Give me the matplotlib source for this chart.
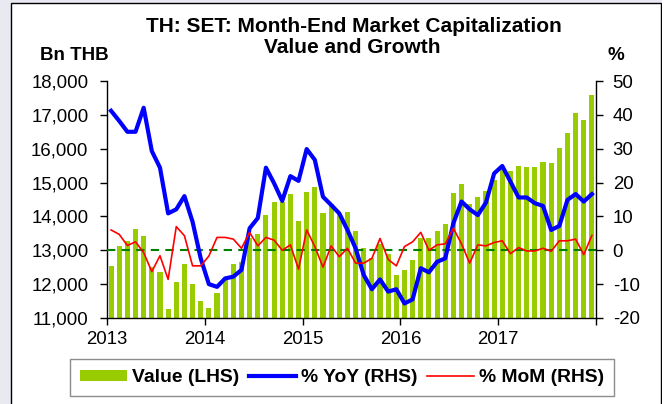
import matplotlib
matplotlib.use("Agg")
import matplotlib.pyplot as plt
from matplotlib.patches import Rectangle
import numpy as np

plt.rcParams['font.family'] = ['Liberation Sans', 'DejaVu Sans']
plt.rcParams['axes.unicode_minus'] = False

years = ["2013", "2014", "2015", "2016", "2017"]

value = [12536, 13127, 13275, 13630, 13432, 12498, 12350, 11276, 12073, 12596, 12014, 11503,
         11306, 11740, 12144, 12606, 12655, 13373, 13491, 14034, 14427, 14440, 14675, 13857,
         14714, 14862, 14111, 14359, 14080, 14141, 13579, 13059, 12764, 13200, 12880, 12281,
         12410, 12714, 13355, 13373, 13562, 13786, 14684, 14958, 14359, 14584, 14743, 15076,
         15450, 15342, 15490, 15470, 15470, 15608, 15569, 16021, 16474, 17046, 16839, 17596]

yoy = [41.2, 38.2, 35.0, 35.0, 42.1, 29.3, 24.4, 10.9, 12.1, 16.0, 8.4, -2.4,
       -10.0, -10.8, -8.3, -7.8, -5.8, 6.5, 9.5, 24.4, 19.8, 14.6, 21.9, 20.5,
       29.9, 26.7, 15.8, 13.4, 10.9, 6.0, 0.6, -7.3, -11.5, -8.6, -12.2, -11.5,
       -15.7, -14.5, -5.3, -6.5, -3.4, -2.4, 8.0, 14.4, 12.1, 10.4, 14.1, 22.7,
       24.9, 20.3, 15.6, 15.6, 13.9, 13.1, 6.0, 7.2, 14.9, 16.6, 14.4, 16.6]

mom = [6.0, 4.7, 1.4, 2.5, -0.7, -6.3, -1.6, -8.6, 7.0, 4.3, -4.6, -4.6,
       -1.7, 3.8, 3.8, 3.3, 0.6, 5.3, 1.3, 3.8, 3.0, 0.0, 1.6, -5.6,
       6.0, 1.1, -5.0, 1.3, -1.9, 0.6, -3.8, -3.8, -2.4, 3.5, -2.7, -4.6,
       1.1, 2.5, 5.3, 0.0, 1.6, 1.9, 6.5, 1.9, -3.8, 1.6, 1.3, 2.3,
       2.8, -1.0, 0.8, -0.2, -0.2, 0.6, -0.3, 2.8, 2.8, 3.3, -1.3, 4.4]

W, H = 667, 404
fig = plt.figure(figsize=(W / 100, H / 100), dpi=100)
fig.patch.set_facecolor('#e9e9f2')
# white framed panel
fig.patches.append(Rectangle((11 / W, -0.01), 650 / W, 1.01 - 3 / H, transform=fig.transFigure,
                             facecolor='white', edgecolor='black', linewidth=1.0, zorder=-10))
fig.patches.append(Rectangle((661.5 / W, 0), 6 / W, 1, transform=fig.transFigure,
                             facecolor='white', edgecolor='none', zorder=-10))

left, right = 107 / W, 596 / W
bottom, top = 1 - 318 / H, 1 - 81 / H
ax = fig.add_axes([left, bottom, right - left, top - bottom])
ax.patch.set_alpha(0)
ax2 = ax.twinx()
ax2.patch.set_alpha(0)

x = np.arange(len(value)) + 0.5
bars = ax.bar(x, value, width=0.62, color='#99cc00', edgecolor='none', zorder=2,
              label='Value (LHS)')
ax.set_ylim(11000, 18000)
ax.set_xlim(0, len(value))
ax.set_yticks(np.arange(11000, 18001, 1000))
ax.set_yticklabels([f"{v:,}" for v in range(11000, 18001, 1000)])
ax.set_xticks(np.arange(0, len(value) + 1, 12))
ax.set_xticklabels(years + [""])

ax2.axhline(0, color='#008000', linestyle=(0, (4, 3)), linewidth=1.5, zorder=1)
l1, = ax2.plot(x, yoy, color='#0000ff', linewidth=3.0, label='% YoY (RHS)', zorder=3)
l2, = ax2.plot(x, mom, color='#ff0000', linewidth=1.2, label='% MoM (RHS)', zorder=4)
ax2.set_ylim(-20, 50)
ax2.set_yticks(np.arange(-20, 51, 10))

for a in (ax, ax2):
    a.spines['top'].set_visible(False)
    for s in a.spines.values():
        s.set_linewidth(1.0)
ax2.spines['left'].set_visible(False)
ax2.spines['bottom'].set_visible(False)
ax.spines['right'].set_visible(False)

ax.tick_params(axis='y', direction='out', length=5, width=1, labelsize=13.4, pad=8.4)
ax.tick_params(axis='x', direction='out', length=5, width=1, labelsize=13.4, pad=4.5)
ax2.tick_params(axis='y', direction='out', length=5, width=1, labelsize=13.4, pad=7)

fig.text(354 / W, 1 - 32 / H, "TH: SET: Month-End Market Capitalization", ha='center',
         va='baseline', fontsize=15, fontweight='bold')
fig.text(352 / W, 1 - 53 / H, "Value and Growth", ha='center', va='baseline',
         fontsize=15, fontweight='bold')
fig.text(40 / W, 1 - 60 / H, "Bn THB", ha='left', va='baseline', fontsize=13.5,
         fontweight='bold')
fig.text(608 / W, 1 - 60 / H, "%", ha='left', va='baseline', fontsize=13.5,
         fontweight='bold')

leg = fig.legend(handles=[bars, l1, l2], loc='center', bbox_to_anchor=(342 / W, 1 - 377.5 / H),
                 ncol=3, frameon=True, fancybox=False, shadow=False,
                 prop={'weight': 'bold', 'size': 13.9}, handlelength=2.45, handleheight=0.5,
                 handletextpad=0.25, columnspacing=0.5, borderpad=0.5, borderaxespad=0)
leg.get_frame().set_edgecolor('#707070')
leg.get_frame().set_linewidth(1.0)

fig.savefig("out.png", dpi=100, facecolor=fig.get_facecolor())
